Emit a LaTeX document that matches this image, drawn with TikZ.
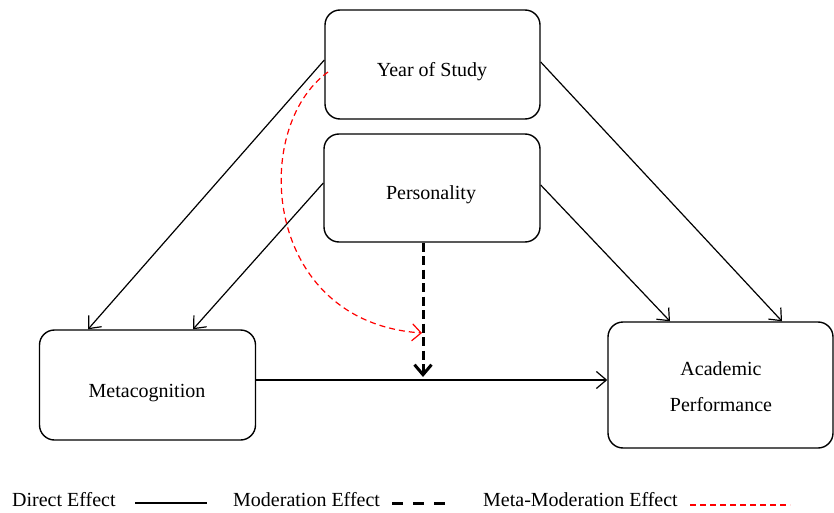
\documentclass[tikz,border=0pt]{standalone}
\usepackage{fontspec}
\setmainfont{Liberation Serif}
\usetikzlibrary{arrows.meta}
\begin{document}
\begin{tikzpicture}[x=1pt,y=-1pt,
  every node/.style={font=\fontsize{20}{24}\selectfont},
  box/.style={draw, line width=1.4pt, rounded corners=15pt, inner sep=0pt},
  txt/.style={inner sep=0pt, align=center},
  direct/.style={line width=1.2pt, -{Straight Barb[length=10pt,width=17pt,line width=1.2pt]}},
  moder/.style={line width=3pt, dash pattern=on 9pt off 4.5pt, -{Straight Barb[length=10pt,width=17pt,line width=3pt]}},
  meta/.style={red, line width=1.2pt, dash pattern=on 6pt off 4pt, -{Straight Barb[length=9pt,width=17pt,line width=1.2pt]}}]
\useasboundingbox (0,0) rectangle (834,513);

% boxes
\node[box, minimum width=215pt, minimum height=109pt] (yos) at (432.5,64.5) {};
\node[box, minimum width=216pt, minimum height=108pt] (per) at (432,188) {};
\node[box, minimum width=216pt, minimum height=110pt] (mc)  at (147.5,385) {};
\node[box, minimum width=225pt, minimum height=126pt] (ap)  at (720.5,385) {};

% box texts
\node[txt] (yost) at (432,72) {Year of Study};
\node[txt] (pert) at (431,195) {Personality};
\node[txt] (mct)  at (147,393) {Metacognition};
\node[txt, text width=200pt, font=\fontsize{20}{36}\selectfont] (apt) at (721,387) {Academic\\Performance};

% direct effects
\draw[direct] (yos.west |- 0,60) -- (mc.north -| 88,0);
\draw[direct] (per.west |- 0,183) -- (mc.north -| 193,0);
\draw[direct] (yos.east |- 0,62) -- (ap.north -| 782,0);
\draw[direct] (per.east |- 0,185) -- (ap.north -| 670,0);
\draw[direct] (mc.east |- 0,380) -- (ap.west |- 0,380);

% moderation and meta-moderation
\coordinate (modend) at (423,377);
\coordinate (modhit) at (422,333);
\coordinate (metastart) at (328,72);
\draw[moder] (per.south -| 423,0) -- (modend);
\draw[meta] (metastart) .. controls (250,128) and (262,322) .. (modhit);

% legend
\node[txt, anchor=west] (l1) at (12,500) {Direct Effect};
\node[txt, anchor=west] (l2) at (233,500) {Moderation Effect};
\node[txt, anchor=west] (l3) at (483,500) {Meta-Moderation Effect};
\coordinate (s1a) at (135,503); \coordinate (s1b) at (207,503);
\coordinate (s2a) at (392,503); \coordinate (s2b) at (452,503);
\coordinate (s3a) at (690,505); \coordinate (s3b) at (790,505);
\draw[line width=1.2pt] (s1a) -- (s1b);
\draw[line width=3pt, dash pattern=on 11pt off 10pt] (s2a) -- (s2b);
\draw[red, line width=1.2pt, dash pattern=on 6pt off 4pt] (s3a) -- (s3b);
\end{tikzpicture}
\end{document}
